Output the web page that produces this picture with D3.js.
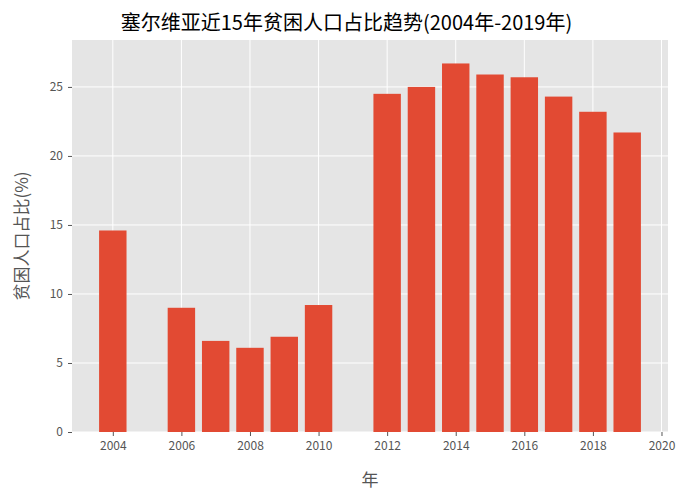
<!DOCTYPE html>
<html><head><meta charset="utf-8">
<script src="https://cdn.jsdelivr.net/npm/d3@7"></script>
<style>body{margin:0;background:#fff}text{font-family:"Noto Sans CJK SC","DejaVu Sans",sans-serif}</style>
</head><body><div id="chart"></div>
<script>
// values
const years = [2004, 2006, 2007, 2008, 2009, 2010, 2012, 2013, 2014, 2015, 2016, 2017, 2018, 2019];
const shares = [14.6, 9.0, 6.6, 6.1, 6.9, 9.2, 24.5, 25.0, 26.7, 25.9, 25.7, 24.3, 23.2, 21.7];
const xTicks = [2004, 2006, 2008, 2010, 2012, 2014, 2016, 2018, 2020];
const yTicks = [0, 5, 10, 15, 20, 25];

const W = 693, H = 500;
const margin = { top: 40, right: 25, bottom: 68, left: 72 };
const width = W - margin.left - margin.right, height = H - margin.top - margin.bottom;

const svg = d3.select("#chart").append("svg").attr("width", W).attr("height", H);
svg.append("text").attr("x", W / 2).attr("y", 30).attr("text-anchor", "middle")
  .attr("font-size", 20).attr("fill", "#000").text("塞尔维亚近15年贫困人口占比趋势(2004年-2019年)");

const g = svg.append("g").attr("transform", `translate(${margin.left},${margin.top})`);
const x = d3.scaleLinear().domain([2002.81, 2020.19]).range([0, width]);
const y = d3.scaleLinear().domain([0, 28.4]).range([height, 0]);

g.append("rect").attr("width", width).attr("height", height).attr("fill", "#E5E5E5");

// grid
g.append("g").selectAll("line").data(xTicks).join("line")
  .attr("x1", d => x(d)).attr("x2", d => x(d)).attr("y1", 0).attr("y2", height)
  .attr("stroke", "#fff").attr("stroke-width", 1);
g.append("g").selectAll("line").data(yTicks).join("line")
  .attr("y1", d => y(d)).attr("y2", d => y(d)).attr("x1", 0).attr("x2", width)
  .attr("stroke", "#fff").attr("stroke-width", 1);

// bars
const bw = x(2004.8) - x(2004);
g.append("g").selectAll("rect").data(years).join("rect")
  .attr("x", d => x(d) - bw / 2).attr("width", bw)
  .attr("y", (d, i) => y(shares[i])).attr("height", (d, i) => height - y(shares[i]))
  .attr("fill", "#E24A33");

// axes
const xAxis = g.append("g").attr("transform", `translate(0,${height})`)
  .call(d3.axisBottom(x).tickValues(xTicks).tickFormat(d3.format("d")).tickSize(4).tickPadding(5));
const yAxis = g.append("g")
  .call(d3.axisLeft(y).tickValues(yTicks).tickSize(4).tickPadding(5));
[xAxis, yAxis].forEach(a => {
  a.select(".domain").remove();
  a.selectAll("line").attr("stroke", "#555");
  a.selectAll("text").attr("fill", "#555").attr("font-size", 12)
    .style("font-family", '"Noto Sans CJK SC", sans-serif');
});

svg.append("text").attr("x", margin.left + width / 2).attr("y", H - 14).attr("text-anchor", "middle")
  .attr("font-size", 17).attr("fill", "#555").text("年");
svg.append("text").attr("transform", `translate(28,${margin.top + height / 2}) rotate(-90)`)
  .attr("text-anchor", "middle").attr("font-size", 17).attr("fill", "#555").text("贫困人口占比(%)");
</script></body></html>
